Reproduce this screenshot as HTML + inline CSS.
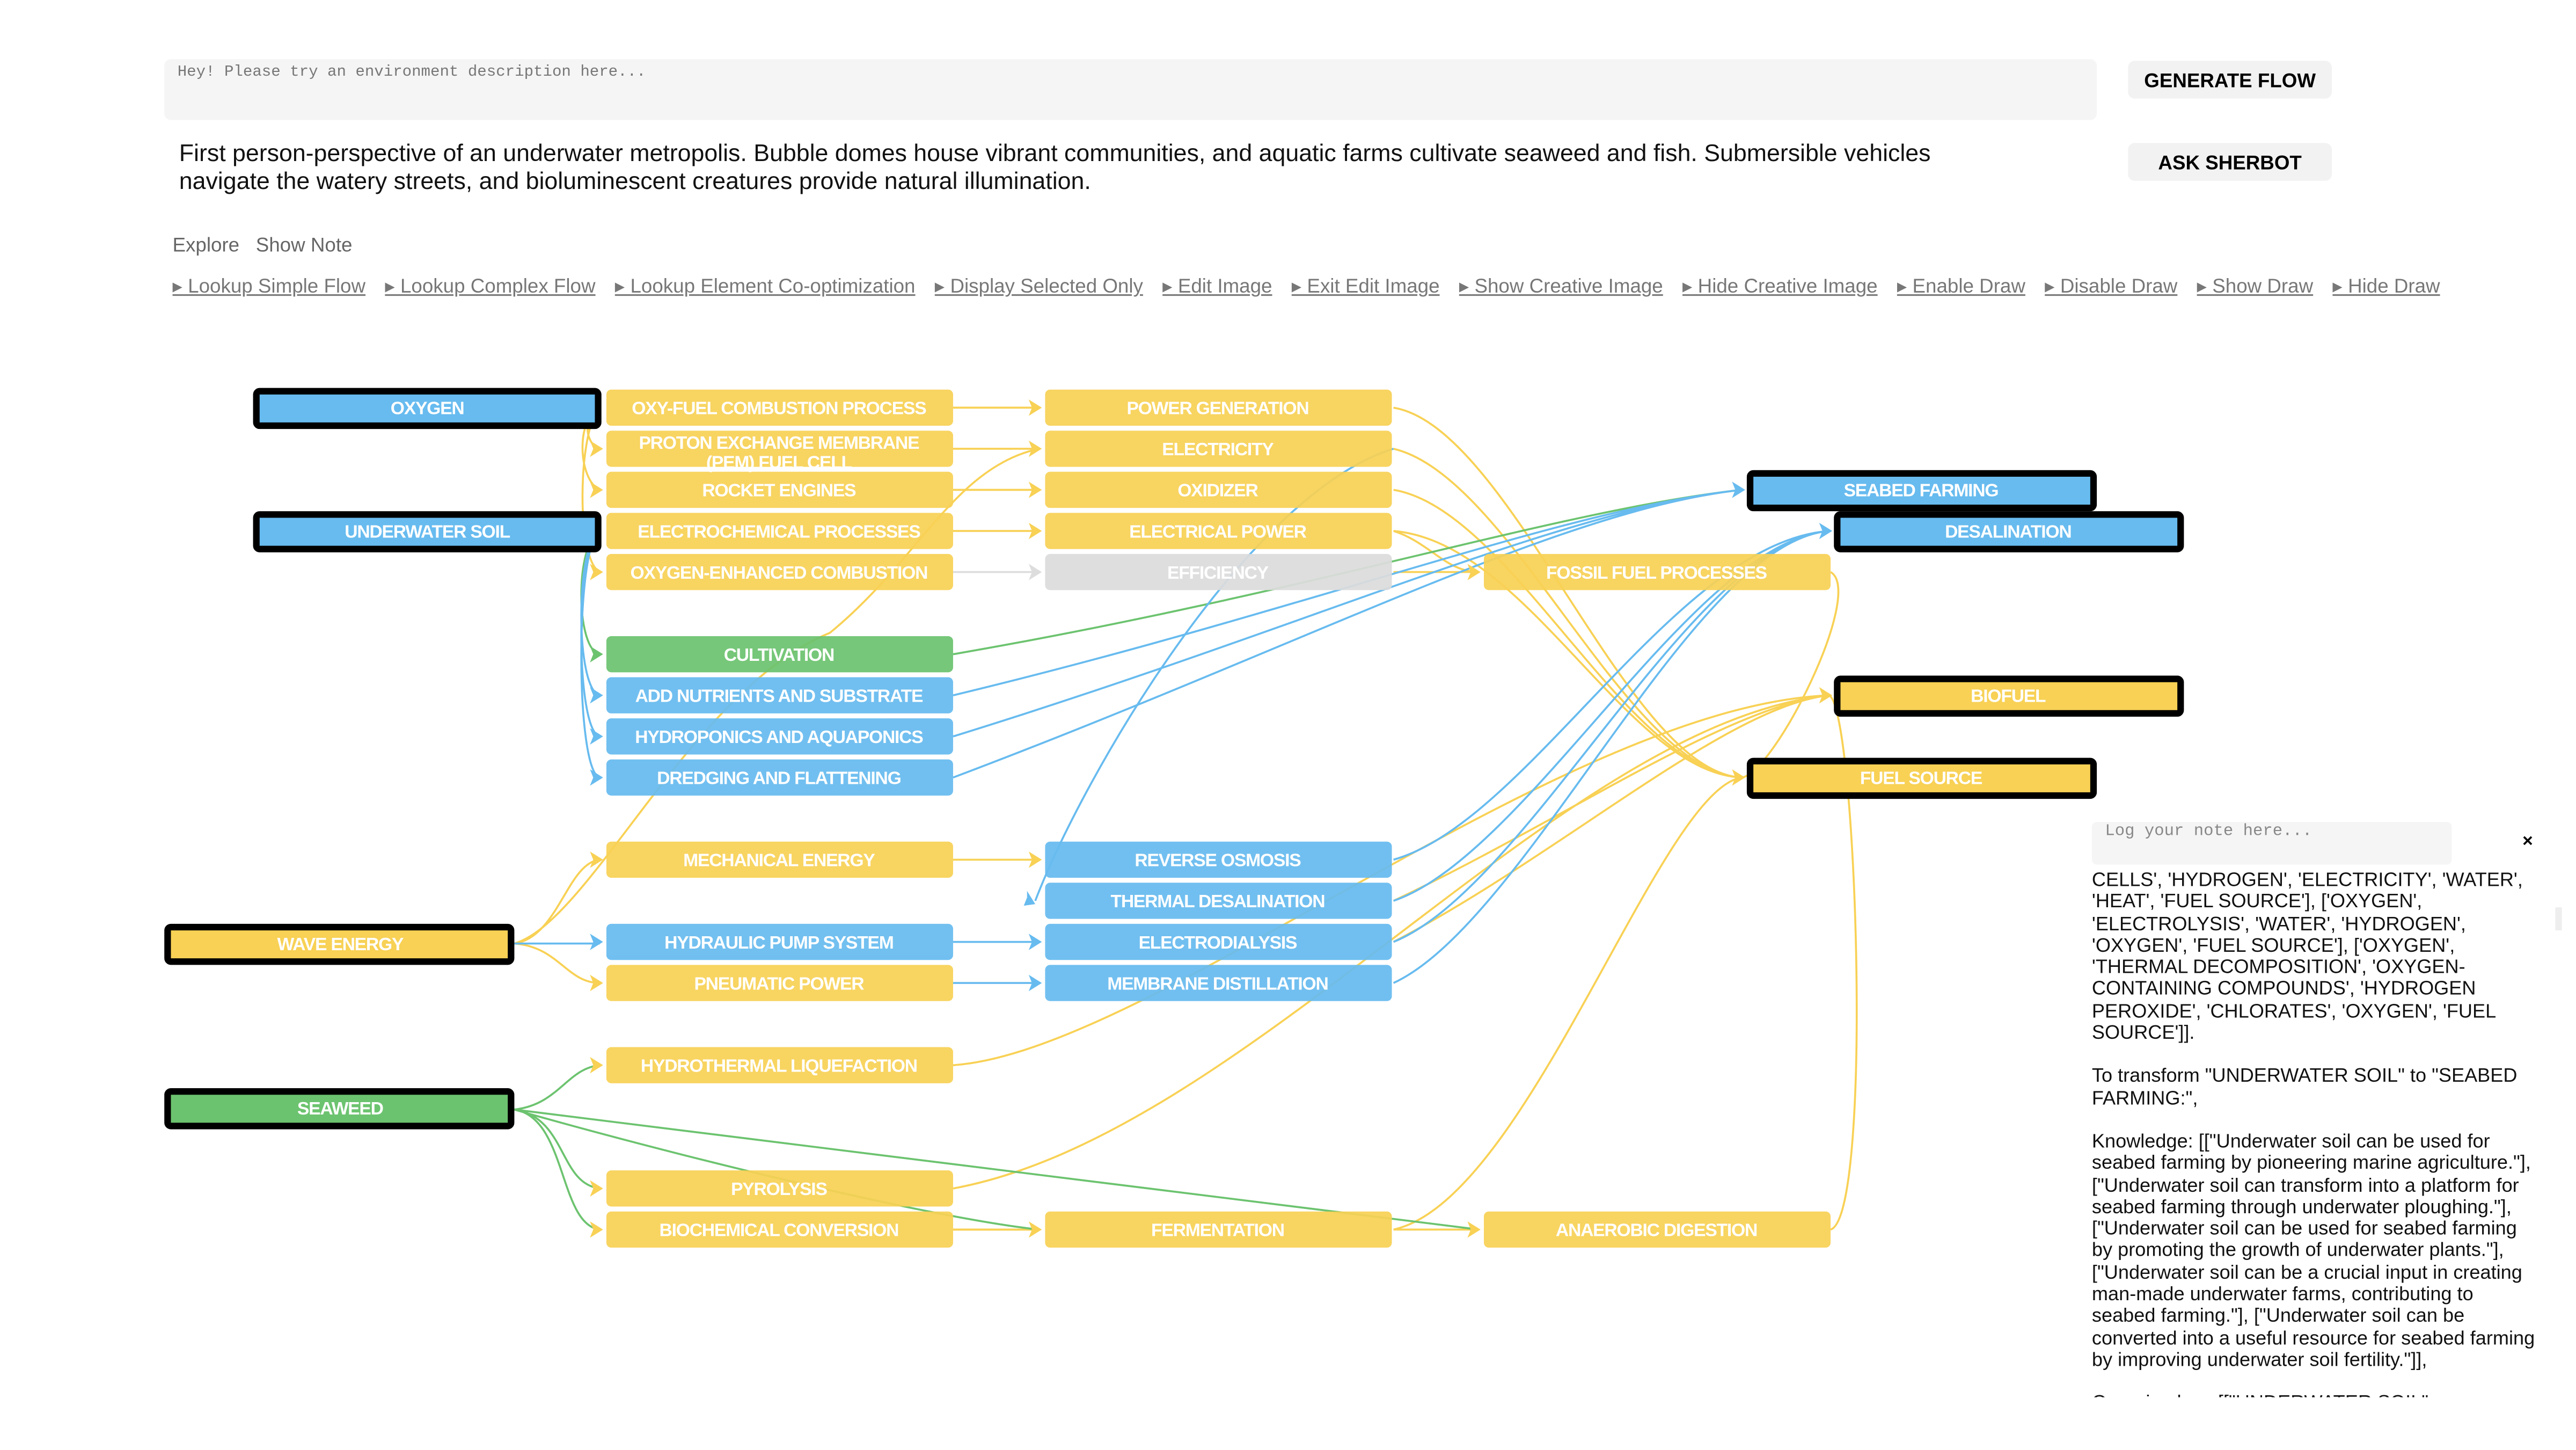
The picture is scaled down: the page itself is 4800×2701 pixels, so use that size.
<!DOCTYPE html>
<html><head><meta charset="utf-8"><style>
html,body{margin:0;padding:0;background:#fff;width:4800px;height:2700px;overflow:hidden}
#w{position:absolute;left:0;top:0;width:1570px;height:882px;transform:scale(3.062);transform-origin:0 0;font-family:"Liberation Sans",Arial,sans-serif}
.ta{position:absolute;left:100px;top:36px;width:1176px;height:37px;background:#f5f5f5;border-radius:4px}
.ta span{position:absolute;left:8px;top:2px;font:9.5px "Liberation Mono",monospace;color:#777}
.btn{position:absolute;left:1295px;width:124px;height:23px;background:#f2f2f2;border-radius:4px;font:bold 12px "Liberation Sans",sans-serif;text-align:center;line-height:24px;color:#000}
.p{position:absolute;left:109px;top:86px;width:1110px;font-size:14.6px;line-height:17px;color:#111}
.ex{position:absolute;left:105px;top:142px;font-size:12px;color:#666}
.links{position:absolute;left:105px;top:167px;font-size:12px;color:#777;white-space:nowrap}
.links a{color:#777;text-decoration:underline;margin-right:8.5px}
.note{position:absolute;left:1273px;top:500px;width:219px;height:26px;background:#f5f5f5;border-radius:3px;z-index:2}
.note span{position:absolute;left:8px;top:1px;font:10px "Liberation Mono",monospace;color:#888}
.x{position:absolute;left:1535px;top:506px;font:bold 11px sans-serif}
.txt{position:absolute;left:1273px;top:529px;width:270px;height:321px;overflow:hidden;font-size:11.8px;line-height:13.3px;color:#111}
.txt p{margin:0 0 13px 0}
.sb{position:absolute;left:1555px;top:552px;width:4px;height:14px;background:#eee}
svg text{font-family:"Liberation Sans",sans-serif;font-weight:bold;font-size:11px;letter-spacing:-0.4px;fill:#fff;text-anchor:middle}
</style></head><body><div id="w">
<div class="ta"><span>Hey! Please try an environment description here...</span></div>
<div class="btn" style="top:37px">GENERATE FLOW</div>
<div class="btn" style="top:87px">ASK SHERBOT</div>
<div class="p">First person-perspective of an underwater metropolis. Bubble domes house vibrant communities, and aquatic farms cultivate seaweed and fish. Submersible vehicles navigate the watery streets, and bioluminescent creatures provide natural illumination.</div>
<div class="ex">Explore &nbsp; Show Note</div>
<div class="links"><a>▸ Lookup Simple Flow</a> <a>▸ Lookup Complex Flow</a> <a>▸ Lookup Element Co-optimization</a> <a>▸ Display Selected Only</a> <a>▸ Edit Image</a> <a>▸ Exit Edit Image</a> <a>▸ Show Creative Image</a> <a>▸ Hide Creative Image</a> <a>▸ Enable Draw</a> <a>▸ Disable Draw</a> <a>▸ Show Draw</a> <a>▸ Hide Draw</a></div>

<svg style="position:absolute;left:0;top:0" width="1570" height="882" viewBox="0 0 1570 882">
<g fill="none" stroke-width="1.2">
<g stroke="#f8d155">
<path d="M580 248H632M580 273H632M580 298H632M580 323H632M580 523H632M580 748H632"/>
<path d="M580 348H632" stroke="#ddd"/>
<path d="M365 248C355 250 355 270 365 273M365 248C350 255 352 292 365 298M365 248C352 260 350 340 365 348"/>
<path d="M313 574C340 570 345 525 365 523M313 574C340 576 345 598 365 598M313 574C360 560 420 420 505 385C560 340 580 285 632 273"/>
<path d="M848 248C920 260 990 470 1060 473M848 273C920 290 990 470 1060 473M848 298C920 310 990 470 1060 473M848 323C930 330 990 470 1060 473M848 323C870 330 880 348 900 348M848 348H900"/>
<path d="M1114 348C1135 360 1080 470 1060 473"/>
<path d="M580 648C700 640 950 430 1113 423M580 723C760 690 950 440 1113 423M848 548C950 500 1050 430 1113 423M848 573C950 520 1050 430 1113 423"/>
<path d="M848 748C930 730 1010 480 1060 473M848 748H900M1114 748C1140 740 1130 430 1113 423M580 748C600 748 610 748 632 748"/>
</g>
<g stroke="#6cc36f">
<path d="M365 323C350 330 350 395 365 398"/>
<path d="M580 398C800 360 950 310 1060 298"/>
<path d="M313 675C340 672 345 650 365 648M313 675C345 680 340 720 365 723M313 675C345 680 340 745 365 748M313 675C400 700 560 740 632 748M313 675L900 748"/>
</g>
<g stroke="#67bbef">
<path d="M365 323C350 330 350 420 365 423M365 323C350 330 350 445 365 448M365 323C350 330 350 470 365 473"/>
<path d="M313 574H365M580 573H632M580 598H632"/>
<path d="M580 423C800 370 950 310 1060 298M580 448C800 380 950 310 1060 298M580 473C800 390 950 310 1060 298"/>
<path d="M848 523C930 500 1020 330 1113 323M848 548C930 520 1030 330 1113 323M848 573C930 540 1030 330 1113 323M848 598C930 560 1030 330 1113 323"/>
<path d="M848 273C760 300 660 470 630 548"/>
</g>
</g>
<g fill="#f8d155">
<path d="M634 248l-8-5 2 5-2 5zM634 273l-8-5 2 5-2 5zM634 298l-8-5 2 5-2 5zM634 323l-8-5 2 5-2 5zM634 523l-8-5 2 5-2 5zM634 748l-8-5 2 5-2 5zM901 748l-8-5 2 5-2 5zM901 348l-8-5 2 5-2 5zM1062 473l-8-5 2 5-2 5zM1115 423l-8-5 2 5-2 5z"/>
<path d="M367 273l-8-5 2 5-2 5zM367 298l-8-5 2 5-2 5zM367 348l-8-5 2 5-2 5zM367 523l-8-5 2 5-2 5zM367 598l-8-5 2 5-2 5zM367 648l-8-5 2 5-2 5zM367 723l-8-5 2 5-2 5zM367 748l-8-5 2 5-2 5z"/>
</g>
<path d="M634 348l-8-5 2 5-2 5z" fill="#ddd"/>
<g fill="#67bbef"><path d="M634 573l-8-5 2 5-2 5zM634 598l-8-5 2 5-2 5zM367 423l-8-5 2 5-2 5zM367 448l-8-5 2 5-2 5zM367 473l-8-5 2 5-2 5zM367 573l-8-5 2 5-2 5zM1062 298l-8-5 2 5-2 5zM1115 323l-8-5 2 5-2 5zM630 550l-5-8 0 4-2 5z"/></g>
<path d="M367 398l-8-5 2 5-2 5z" fill="#6cc36f"/>

<g opacity="0.93">
<g fill="#f8d155">
<rect x="369" y="237" width="211" height="22" rx="3"/><rect x="369" y="262" width="211" height="22" rx="3"/><rect x="369" y="287" width="211" height="22" rx="3"/><rect x="369" y="312" width="211" height="22" rx="3"/><rect x="369" y="337" width="211" height="22" rx="3"/>
<rect x="369" y="512" width="211" height="22" rx="3"/><rect x="369" y="587" width="211" height="22" rx="3"/><rect x="369" y="637" width="211" height="22" rx="3"/><rect x="369" y="712" width="211" height="22" rx="3"/><rect x="369" y="737" width="211" height="22" rx="3"/>
<rect x="636" y="237" width="211" height="22" rx="3"/><rect x="636" y="262" width="211" height="22" rx="3"/><rect x="636" y="287" width="211" height="22" rx="3"/><rect x="636" y="312" width="211" height="22" rx="3"/><rect x="636" y="737" width="211" height="22" rx="3"/>
<rect x="903" y="337" width="211" height="22" rx="3"/><rect x="903" y="737" width="211" height="22" rx="3"/>
</g>
<rect x="636" y="337" width="211" height="22" rx="3" fill="#dcdcdc"/>
<rect x="369" y="387" width="211" height="22" rx="3" fill="#6cc36f"/>
<g fill="#67bbef">
<rect x="369" y="412" width="211" height="22" rx="3"/><rect x="369" y="437" width="211" height="22" rx="3"/><rect x="369" y="462" width="211" height="22" rx="3"/><rect x="369" y="562" width="211" height="22" rx="3"/>
<rect x="636" y="512" width="211" height="22" rx="3"/><rect x="636" y="537" width="211" height="22" rx="3"/><rect x="636" y="562" width="211" height="22" rx="3"/><rect x="636" y="587" width="211" height="22" rx="3"/>
</g>
</g>
<g stroke="#000" stroke-width="4">
<rect x="156" y="238" width="208" height="21" rx="2" fill="#67bbef"/>
<rect x="156" y="313" width="208" height="21" rx="2" fill="#67bbef"/>
<rect x="102" y="564" width="209" height="21" rx="2" fill="#f8d155"/>
<rect x="102" y="664" width="209" height="21" rx="2" fill="#6cc36f"/>
<rect x="1065" y="288" width="209" height="21" rx="2" fill="#67bbef"/>
<rect x="1118" y="313" width="209" height="21" rx="2" fill="#67bbef"/>
<rect x="1118" y="413" width="209" height="21" rx="2" fill="#f8d155"/>
<rect x="1065" y="463" width="209" height="21" rx="2" fill="#f8d155"/>
</g>
<text x="260" y="252">OXYGEN</text><text x="260" y="327">UNDERWATER SOIL</text>
<text x="207" y="578">WAVE ENERGY</text><text x="207" y="678">SEAWEED</text>
<text x="1169" y="302">SEABED FARMING</text><text x="1222" y="327">DESALINATION</text>
<text x="1222" y="427">BIOFUEL</text><text x="1169" y="477">FUEL SOURCE</text>
<text x="474" y="252">OXY-FUEL COMBUSTION PROCESS</text>
<text x="474" y="273">PROTON EXCHANGE MEMBRANE</text><text x="474" y="285">(PEM) FUEL CELL</text>
<text x="474" y="302">ROCKET ENGINES</text><text x="474" y="327">ELECTROCHEMICAL PROCESSES</text>
<text x="474" y="352">OXYGEN-ENHANCED COMBUSTION</text><text x="474" y="402">CULTIVATION</text>
<text x="474" y="427">ADD NUTRIENTS AND SUBSTRATE</text><text x="474" y="452">HYDROPONICS AND AQUAPONICS</text>
<text x="474" y="477">DREDGING AND FLATTENING</text><text x="474" y="527">MECHANICAL ENERGY</text>
<text x="474" y="577">HYDRAULIC PUMP SYSTEM</text><text x="474" y="602">PNEUMATIC POWER</text>
<text x="474" y="652">HYDROTHERMAL LIQUEFACTION</text><text x="474" y="727">PYROLYSIS</text>
<text x="474" y="752">BIOCHEMICAL CONVERSION</text>
<text x="741" y="252">POWER GENERATION</text><text x="741" y="277">ELECTRICITY</text>
<text x="741" y="302">OXIDIZER</text><text x="741" y="327">ELECTRICAL POWER</text>
<text x="741" y="352">EFFICIENCY</text><text x="741" y="527">REVERSE OSMOSIS</text>
<text x="741" y="552">THERMAL DESALINATION</text><text x="741" y="577">ELECTRODIALYSIS</text>
<text x="741" y="602">MEMBRANE DISTILLATION</text><text x="741" y="752">FERMENTATION</text>
<text x="1008" y="352">FOSSIL FUEL PROCESSES</text><text x="1008" y="752">ANAEROBIC DIGESTION</text>
</svg>

<div class="note"><span>Log your note here...</span></div>
<div class="x">×</div>
<div class="txt">
<p>CELLS', 'HYDROGEN', 'ELECTRICITY', 'WATER', 'HEAT', 'FUEL SOURCE'], ['OXYGEN', 'ELECTROLYSIS', 'WATER', 'HYDROGEN', 'OXYGEN', 'FUEL SOURCE'], ['OXYGEN', 'THERMAL DECOMPOSITION', 'OXYGEN-CONTAINING COMPOUNDS', 'HYDROGEN PEROXIDE', 'CHLORATES', 'OXYGEN', 'FUEL SOURCE']].</p>
<p>To transform "UNDERWATER SOIL" to "SEABED FARMING:",</p>
<p>Knowledge: [["Underwater soil can be used for seabed farming by pioneering marine agriculture."], ["Underwater soil can transform into a platform for seabed farming through underwater ploughing."], ["Underwater soil can be used for seabed farming by promoting the growth of underwater plants."], ["Underwater soil can be a crucial input in creating man-made underwater farms, contributing to seabed farming."], ["Underwater soil can be converted into a useful resource for seabed farming by improving underwater soil fertility."]],</p>
<p>Organized as: [["UNDERWATER SOIL",</p>
</div>
<div class="sb"></div>
</div></body></html>
